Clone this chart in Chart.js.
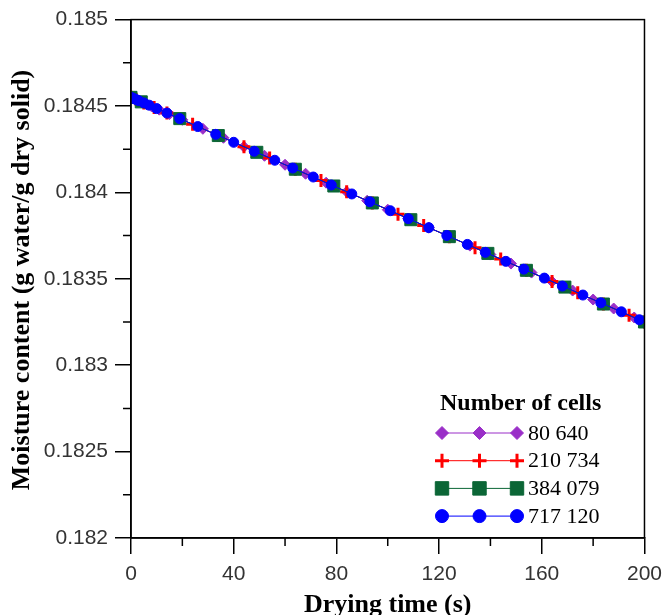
<!DOCTYPE html>
<html>
<head>
<meta charset="utf-8">
<title>Moisture content vs drying time</title>
<script src="https://cdn.jsdelivr.net/npm/chart.js"></script>
<style>
body {
  margin: 0;
  background: #fff;
}
</style>
</head>
<body>
<canvas id="moistChart" width="670" height="615"></canvas>

<script>
// series labels (number of cells)
const cellLabels = ["80 640", "210 734", "384 079", "717 120"];

// 80 640 cells
const timeA = [0, 1.5, 3, 4.5, 6, 8, 11, 15, 20, 28, 36, 44, 52, 60, 68, 76, 84, 92, 100, 108, 116, 124, 132, 140, 148, 156, 164, 172, 180, 188, 196];
const moistA = [0.18455, 0.18454, 0.18453, 0.18452, 0.184511, 0.184498, 0.184479, 0.184453, 0.18442, 0.184368, 0.184316, 0.184264, 0.184212, 0.18416, 0.184108, 0.184056, 0.184004, 0.183952, 0.1839, 0.183848, 0.183796, 0.183744, 0.183692, 0.18364, 0.183588, 0.183536, 0.183484, 0.183432, 0.18338, 0.183328, 0.183276];

// 210 734 cells
const timeB = [0, 2, 5, 9, 14, 24, 34, 44, 54, 64, 74, 84, 94, 104, 114, 124, 134, 144, 154, 164, 174, 184, 194, 200];
const moistB = [0.18455, 0.184537, 0.184518, 0.184492, 0.184459, 0.184394, 0.184329, 0.184264, 0.184199, 0.184134, 0.184069, 0.184004, 0.183939, 0.183874, 0.183809, 0.183744, 0.183679, 0.183614, 0.183549, 0.183484, 0.183419, 0.183354, 0.183289, 0.18325];

// 384 079 cells
const timeC = [0, 4, 19, 34, 49, 64, 79, 94, 109, 124, 139, 154, 169, 184, 200];
const moistC = [0.18455, 0.184524, 0.184427, 0.184329, 0.184232, 0.184134, 0.184037, 0.183939, 0.183842, 0.183744, 0.183647, 0.183549, 0.183452, 0.183354, 0.18325];

// 717 120 cells
const timeD = [0, 1, 2, 3, 5, 7, 10, 14, 19, 26, 33, 40, 48, 56, 63, 71, 78, 86, 93, 101, 108, 116, 123, 131, 138, 146, 153, 161, 168, 176, 183, 191, 198];
const moistD = [0.18455, 0.184544, 0.184537, 0.184531, 0.184518, 0.184505, 0.184485, 0.184459, 0.184427, 0.184381, 0.184336, 0.18429, 0.184238, 0.184186, 0.184141, 0.184089, 0.184043, 0.183991, 0.183946, 0.183894, 0.183848, 0.183796, 0.183751, 0.183699, 0.183653, 0.183601, 0.183556, 0.183504, 0.183458, 0.183406, 0.183361, 0.183309, 0.183263];

// axis ticks
const xTicks = [0, 40, 80, 120, 160, 200];
const xMinor = [20, 60, 100, 140, 180];
const yTicks = [0.182, 0.1825, 0.183, 0.1835, 0.184, 0.1845, 0.185];
const yMinor = [0.18225, 0.18275, 0.18325, 0.18375, 0.18425, 0.18475];

const colors = ["#9a2fc8", "#ff0000", "#0b6636", "#0000ff"];
const styles = [
  { pointStyle: "rectRot", radius: 5.5, legendRadius: 6.5, borderWidth: 1 },
  { pointStyle: "cross", radius: 6.5, legendRadius: 7, borderWidth: 3 },
  { pointStyle: "rect", radius: 8.5, legendRadius: 9.5, borderWidth: 1 },
  { pointStyle: "circle", radius: 5, legendRadius: 6.5, borderWidth: 1 }
];

const pairs = (ts, vs) => ts.map((t, i) => ({ x: t, y: vs[i] }));
const seriesData = [pairs(timeA, moistA), pairs(timeB, moistB), pairs(timeC, moistC), pairs(timeD, moistD)];

const serif = "'Liberation Serif', 'Times New Roman', serif";
const sans = "'Liberation Sans', Arial, sans-serif";

// frame, minor ticks, axis titles and legend
const extras = {
  id: "extras",
  afterDraw(chart) {
    const { ctx, chartArea, scales } = chart;
    const { left, right, top, bottom } = chartArea;
    ctx.save();
    ctx.strokeStyle = "#000";
    ctx.lineWidth = 1.5;
    ctx.strokeRect(left, top, right - left, bottom - top);

    ctx.beginPath();
    xMinor.forEach(v => {
      const px = scales.x.getPixelForValue(v);
      ctx.moveTo(px, bottom);
      ctx.lineTo(px, bottom + 8);
    });
    yMinor.forEach(v => {
      const py = scales.y.getPixelForValue(v);
      ctx.moveTo(left, py);
      ctx.lineTo(left - 8, py);
    });
    ctx.stroke();

    // axis titles
    ctx.fillStyle = "#000";
    ctx.font = "bold 26px " + serif;
    ctx.textAlign = "center";
    ctx.textBaseline = "alphabetic";
    ctx.fillText("Drying time (s)", (left + right) / 2, 612);
    ctx.save();
    ctx.translate(29, 280);
    ctx.rotate(-Math.PI / 2);
    ctx.fillText("Moisture content (g water/g dry solid)", 0, 0);
    ctx.restore();

    // legend
    ctx.font = "bold 24px " + serif;
    ctx.textBaseline = "middle";
    ctx.textAlign = "left";
    ctx.fillText("Number of cells", 440, 404);

    cellLabels.forEach((lab, i) => {
      const ly = 433 + i * 27.7;
      ctx.strokeStyle = colors[i];
      ctx.lineWidth = 1;
      ctx.beginPath();
      ctx.moveTo(442, ly);
      ctx.lineTo(517, ly);
      ctx.stroke();
      [442, 479.5, 517].forEach(mx => {
        ctx.fillStyle = colors[i];
        ctx.strokeStyle = colors[i];
        ctx.lineWidth = styles[i].borderWidth;
        Chart.helpers.drawPoint(ctx, { pointStyle: styles[i].pointStyle, radius: styles[i].legendRadius, rotation: 0, borderWidth: styles[i].borderWidth }, mx, ly);
      });
      ctx.fillStyle = "#000";
      ctx.font = "22px " + serif;
      ctx.fillText(lab, 528, ly + 1);
    });
    ctx.restore();
  }
};

new Chart(document.getElementById("moistChart"), {
  type: "line",
  data: {
    datasets: seriesData.map((d, i) => ({
      label: cellLabels[i],
      data: d,
      borderColor: colors[i],
      backgroundColor: colors[i],
      borderWidth: 1,
      pointStyle: styles[i].pointStyle,
      pointRadius: styles[i].radius,
      pointBorderWidth: styles[i].borderWidth,
      pointBorderColor: colors[i],
      pointBackgroundColor: colors[i],
      tension: 0,
      order: 3 - i
    }))
  },
  options: {
    responsive: false,
    devicePixelRatio: 1,
    animation: false,
    layout: { padding: { top: 18, right: 19, left: 0, bottom: 0 } },
    plugins: {
      legend: { display: false },
      tooltip: { enabled: false }
    },
    scales: {
      x: {
        type: "linear",
        min: 0,
        max: 200,
        afterFit: s => { s.height = 77; },
        afterBuildTicks: s => { s.ticks = xTicks.map(v => ({ value: v })); },
        grid: { drawOnChartArea: false, tickLength: 16, color: "#000", lineWidth: 1.5 },
        border: { color: "#000", width: 1.5 },
        ticks: { color: "#333", font: { family: sans, size: 21 }, padding: 8, maxRotation: 0 }
      },
      y: {
        type: "linear",
        min: 0.182,
        max: 0.185,
        afterFit: s => { s.width = 131; },
        afterBuildTicks: s => { s.ticks = yTicks.map(v => ({ value: v })); },
        grid: { drawOnChartArea: false, tickLength: 16, color: "#000", lineWidth: 1.5 },
        border: { color: "#000", width: 1.5 },
        ticks: {
          color: "#333",
          font: { family: sans, size: 21 },
          padding: 7,
          callback: v => String(+v.toFixed(4))
        }
      }
    }
  },
  plugins: [extras]
});
</script>
</body>
</html>
